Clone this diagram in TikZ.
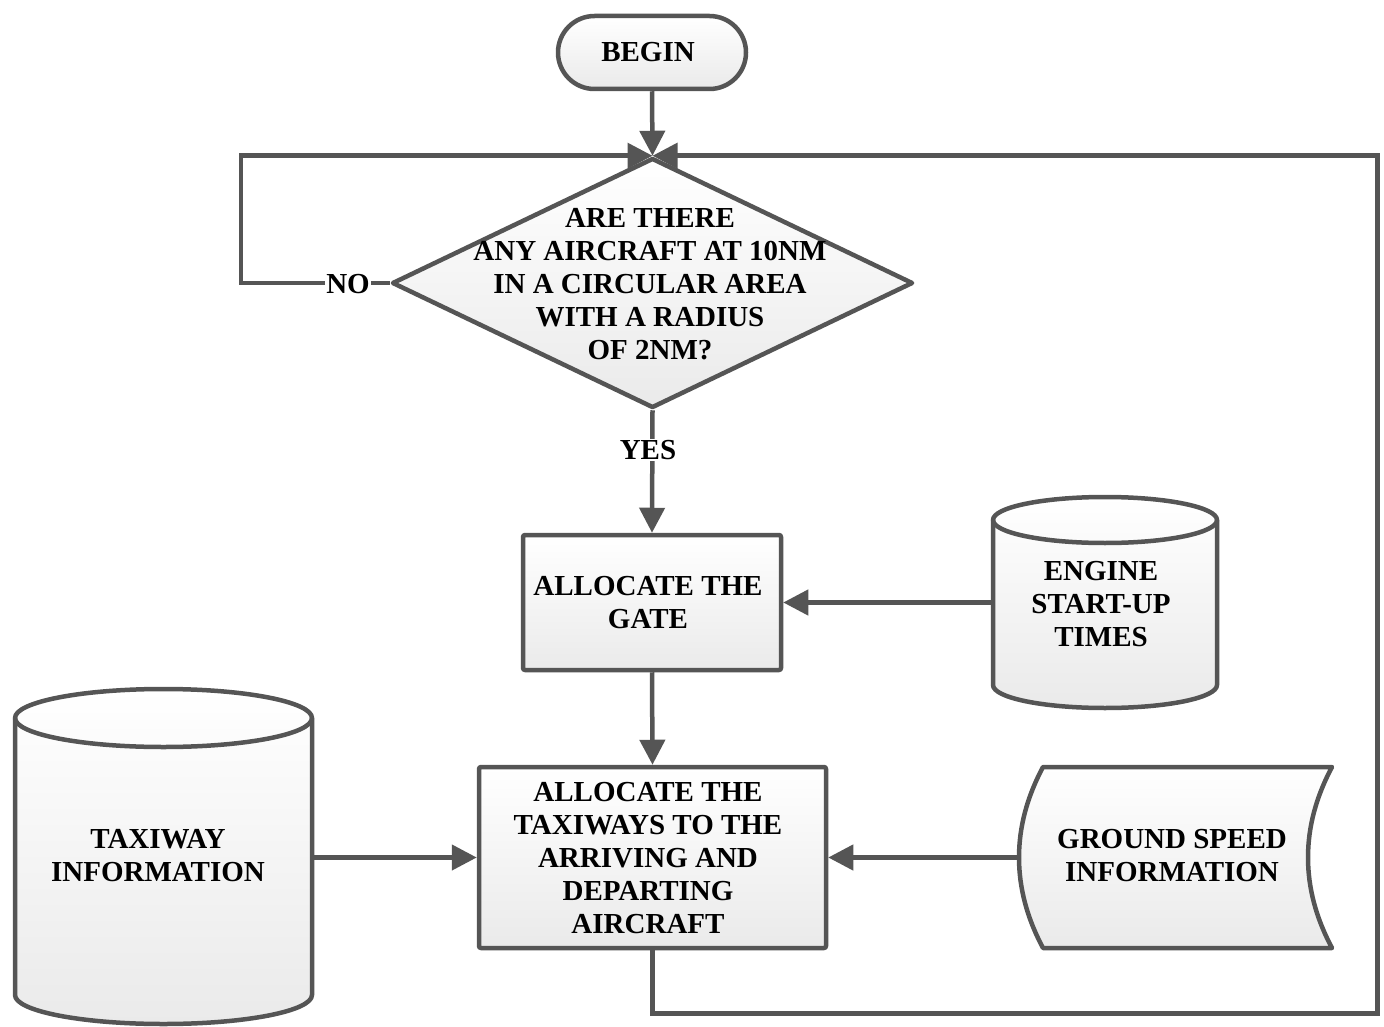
\documentclass[tikz,border=0pt]{standalone}
\usepackage{fontspec}
\setmainfont{Liberation Serif}
\usetikzlibrary{arrows.meta,shapes.geometric}
\definecolor{ln}{RGB}{85,85,85}
\definecolor{fl}{RGB}{234,234,234}
\begin{document}
\begin{tikzpicture}[x=1pt,y=-1pt,
  txt/.style={font=\bfseries\fontsize{29}{33}\selectfont, align=center, text=black},
  shp/.style={draw=ln, line width=4.5pt, top color=white, bottom color=fl, line join=round},
  ghost/.style={rectangle, inner sep=0pt, outer sep=2.25pt},
  arr/.style={draw=ln, line width=4.5pt, -{Triangle[length=25pt,width=25pt]}},
  lbl/.style={txt, fill=white, inner sep=1pt}]
\useasboundingbox (0,0) rectangle (1384,1027);

% BEGIN
\node[shp, rounded corners=36.5pt, minimum width=188pt, minimum height=73pt, inner sep=0pt] (begin) at (652,52.5) {};
\node[txt] (begintxt) at (648,52.5) {BEGIN};

% decision
\node[shp, diamond, minimum width=521pt, minimum height=250pt, inner sep=0pt] (dia) at (652.5,283) {};
\node[txt] (diatxt) at (650,284) {ARE THERE\\ANY AIRCRAFT AT 10NM\\IN A CIRCULAR AREA\\WITH A RADIUS\\OF 2NM?};

% gate
\node[shp, rounded corners=2pt, minimum width=258pt, minimum height=135pt, inner sep=0pt] (gate) at (652,602.5) {};
\node[txt] (gatetxt) at (648,603) {ALLOCATE THE\\GATE};

% taxiways
\node[shp, rounded corners=2pt, minimum width=347pt, minimum height=181pt, inner sep=0pt] (tx) at (652.5,857.5) {};
\node[txt] (txtxt) at (648,858) {ALLOCATE THE\\TAXIWAYS TO THE\\ARRIVING AND\\DEPARTING\\AIRCRAFT};

% engine start-up cylinder
\path[shp] (993,520) -- (993,685) arc[start angle=180,end angle=0,x radius=112,y radius=23] -- (1217,520) arc[start angle=0,end angle=-180,x radius=112,y radius=23] -- cycle;
\draw[draw=ln, line width=4.5pt] (993,520) arc[start angle=180,end angle=0,x radius=112,y radius=23];
\node[ghost, minimum width=224pt, minimum height=210pt] (eng) at (1105,602.5) {};
\node[txt] (engtxt) at (1101,604) {ENGINE\\START-UP\\TIMES};

% taxiway information cylinder
\path[shp] (15,718) -- (15,995) arc[start angle=180,end angle=0,x radius=148.5,y radius=29] -- (312,718) arc[start angle=0,end angle=-180,x radius=148.5,y radius=29] -- cycle;
\draw[draw=ln, line width=4.5pt] (15,718) arc[start angle=180,end angle=0,x radius=148.5,y radius=29];
\node[ghost, minimum width=297pt, minimum height=334pt] (tinfo) at (163.5,857.5) {};
\node[txt] (tinfotxt) at (158,856) {TAXIWAY\\INFORMATION};

% ground speed stored data
\path[shp] (1043,767) -- (1332,767) .. controls (1316,797) and (1308,827) .. (1308,857.5) .. controls (1308,888) and (1316,918) .. (1332,948) -- (1043,948) .. controls (1027,918) and (1019,888) .. (1019,857.5) .. controls (1019,827) and (1027,797) .. cycle;
\node[ghost, minimum width=313pt, minimum height=181pt] (gs) at (1175.5,857.5) {};
\node[txt] (gstxt) at (1172,856) {GROUND SPEED\\INFORMATION};

% connectors
\draw[arr] (begin.south) -- (dia.north);
\draw[arr] (dia.west) -- ++(-149,0) |- (dia.north);
\draw[arr] (tx.south) -- ++(0,63) -| ([xshift=725pt]dia.north) -- (dia.north);
\draw[arr] (dia.south) -- (gate.north);
\draw[arr] (eng.west) -- (gate.east);
\draw[arr] (gate.south) -- (tx.north);
\draw[arr] (tinfo.east) -- (tx.west);
\draw[arr] (gs.west) -- (tx.east);

% labels
\node[lbl] (no) at (348,284) {NO};
\node[lbl] (yes) at (648,450) {YES};
\end{tikzpicture}
\end{document}
